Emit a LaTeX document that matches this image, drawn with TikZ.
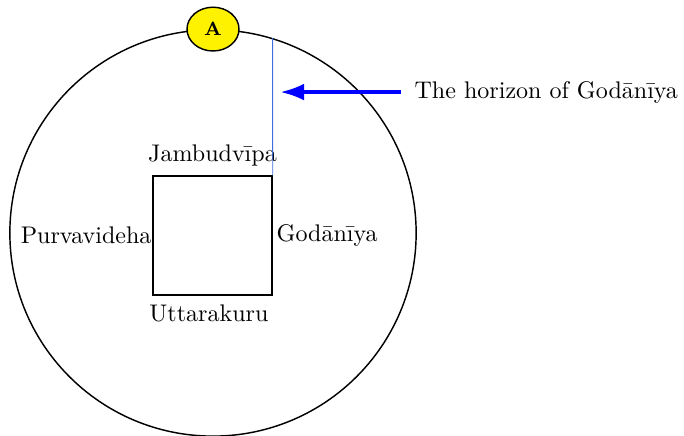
\documentclass[tikz,border=0pt]{standalone}
\usepackage{fontspec}
\usepackage{xcolor}
\usepackage{tikz}
\usetikzlibrary{positioning, shapes.geometric, arrows.meta}
\definecolor{horizonblue}{RGB}{60,110,220}

\begin{document}
\begin{tikzpicture}[node distance=0pt, semithick]
        \useasboundingbox (-3.114,-2.968) rectangle (6.886,3.406);

        \node[draw, circle, minimum size=5.94cm] (earth) at (0,0) {};
        \node[draw, minimum size=1.74cm] (jambu) at (-0.007,-0.037) {};

        \node (north) [above=of jambu] {Jambudvīpa};
        \node (west)  [left=-3.3pt of jambu]  {Purvavideha};
        \node (east)  [right=-2pt of jambu] {Godānīya};
        \node (south) [below=of jambu, xshift=-1.5pt] {Uttarakuru};

        \draw[horizonblue, thin] (jambu.north east) -- (earth.73);

        \node[draw, ellipse, fill=yellow, minimum width=0.76cm, minimum height=0.64cm,
              font=\footnotesize\bfseries] (sun) at (earth.north) {A};

        \node[anchor=west] (horizon) at (2.82,2.06) {The horizon of Godānīya};
        \coordinate (tip) at (0.98,2.06);
        \draw[blue, ultra thick, -{Latex[length=10pt,width=7pt]}]
        ([xshift=-2pt]horizon.west) -- (tip);

    \end{tikzpicture}
\end{document}
